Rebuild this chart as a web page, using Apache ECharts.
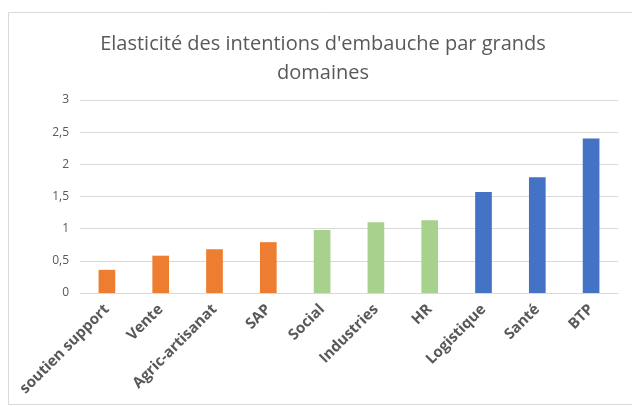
<!DOCTYPE html>
<html>
<head>
<meta charset="utf-8">
<script src="https://cdn.jsdelivr.net/npm/echarts@6/dist/echarts.min.js"></script>
<style>
  html, body { margin: 0; padding: 0; background: #fff; }
  #chart { width: 632px; height: 406px; }
</style>
</head>
<body>
<div id="chart"></div>
<script>
var chart = echarts.init(document.getElementById('chart'));

// données
var categories = ['soutien support', 'Vente', 'Agric-artisanat', 'SAP', 'Social', 'Industries', 'HR', 'Logistique', 'Santé', 'BTP'];
var values = [0.36, 0.58, 0.68, 0.79, 0.98, 1.10, 1.13, 1.57, 1.80, 2.40];
var groups = [0, 0, 0, 0, 1, 1, 1, 2, 2, 2];
var groupColors = ['#ED7D31', '#A9D18E', '#4472C4'];
var yTicks = [0, 0.5, 1, 1.5, 2, 2.5, 3];

var barData = values.map(function (v, i) {
    return { value: v, itemStyle: { color: groupColors[groups[i]] } };
});

var option = {
    backgroundColor: '#fff',
    textStyle: { fontFamily: 'Open Sans' },
    title: {
        text: 'Elasticité des intentions d\'embauche par grands\ndomaines',
        left: 318,
        textAlign: 'center',
        top: 25,
        textStyle: {
            color: '#595959',
            fontFamily: 'Open Sans',
            fontWeight: 'normal',
            fontSize: 20,
            lineHeight: 29
        }
    },
    graphic: [{
        type: 'rect',
        shape: { x: 8.5, y: 12.5, width: 640, height: 392 },
        style: { fill: 'none', stroke: '#D9D9D9', lineWidth: 1 },
        silent: true
    }],
    grid: {
        left: 80,
        right: 14,
        top: 100,
        bottom: 113
    },
    xAxis: {
        type: 'category',
        data: categories,
        axisLine: { lineStyle: { color: '#D9D9D9', width: 1 } },
        axisTick: { show: false },
        axisLabel: {
            rotate: 45,
            interval: 0,
            margin: 14,
            color: '#595959',
            fontWeight: 'bold',
            fontSize: 15,
            fontFamily: 'Open Sans'
        }
    },
    yAxis: {
        type: 'value',
        min: yTicks[0],
        max: yTicks[yTicks.length - 1],
        interval: 0.5,
        axisLine: { show: false },
        axisTick: { show: false },
        splitLine: { lineStyle: { color: '#D9D9D9', width: 1 } },
        axisLabel: {
            color: '#595959',
            fontSize: 12,
            margin: 11,
            fontFamily: 'Open Sans',
            formatter: function (v) { return String(v).replace('.', ','); }
        }
    },
    series: [{
        name: 'Elasticité',
        type: 'bar',
        data: barData,
        barWidth: '31%',
        animation: false
    }]
};
chart.setOption(option);
</script>
</body>
</html>
